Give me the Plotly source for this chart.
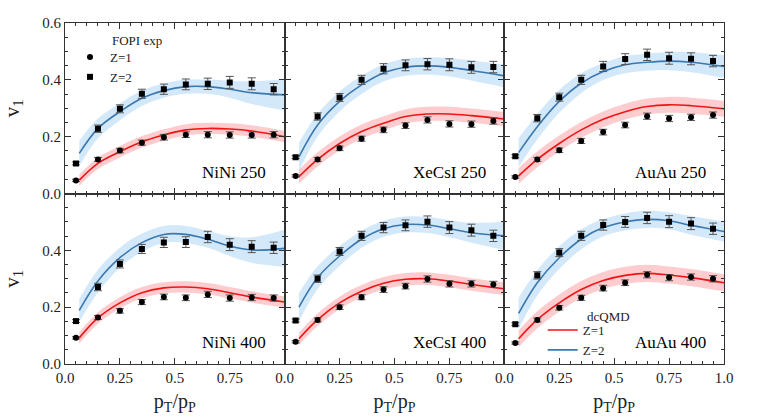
import plotly.graph_objects as go
from plotly.subplots import make_subplots

PANEL_LABELS = ["NiNi 250", "XeCsI 250", "AuAu 250", "NiNi 400", "XeCsI 400", "AuAu 400"]
X_EXP = [0.05, 0.15, 0.25, 0.35, 0.45, 0.55, 0.65, 0.75, 0.85, 0.95]
X_MOD = [0.065, 0.15, 0.25, 0.35, 0.45, 0.55, 0.65, 0.75, 0.85, 1.0]
X_TICKS = [0.0, 0.25, 0.5, 0.75, 1.0]
X_TICKTEXT = ["0.0", "0.25", "0.5", "0.75", "1.0"]
Y_TICKS = [0.0, 0.2, 0.4, 0.6]
Y_TICKTEXT = ["0.0", "0.2", "0.4", "0.6"]

# FOPI experimental data (v1 vs pT/pP)
EXP_Z1_NINI250 = [0.046, 0.120, 0.151, 0.179, 0.198, 0.207, 0.207, 0.206, 0.206, 0.207]
EXP_Z2_NINI250 = [0.106, 0.228, 0.298, 0.351, 0.367, 0.384, 0.386, 0.391, 0.386, 0.367]
EXP_Z1_XECSI250 = [0.062, 0.120, 0.159, 0.193, 0.224, 0.239, 0.259, 0.245, 0.244, 0.255]
EXP_Z2_XECSI250 = [0.128, 0.271, 0.338, 0.400, 0.439, 0.451, 0.455, 0.453, 0.444, 0.445]
EXP_Z1_AUAU250 = [0.058, 0.120, 0.152, 0.185, 0.216, 0.241, 0.272, 0.264, 0.268, 0.276]
EXP_Z2_AUAU250 = [0.131, 0.265, 0.339, 0.400, 0.447, 0.473, 0.488, 0.476, 0.474, 0.466]
EXP_Z1_NINI400 = [0.092, 0.164, 0.187, 0.218, 0.236, 0.233, 0.245, 0.232, 0.234, 0.232]
EXP_Z2_NINI400 = [0.151, 0.271, 0.352, 0.405, 0.428, 0.429, 0.447, 0.420, 0.413, 0.409]
EXP_Z1_XECSI400 = [0.078, 0.155, 0.200, 0.235, 0.262, 0.274, 0.299, 0.282, 0.282, 0.280]
EXP_Z2_XECSI400 = [0.153, 0.300, 0.396, 0.451, 0.480, 0.488, 0.501, 0.480, 0.471, 0.451]
EXP_Z1_AUAU400 = [0.074, 0.155, 0.198, 0.233, 0.267, 0.286, 0.314, 0.304, 0.306, 0.300]
EXP_Z2_AUAU400 = [0.140, 0.312, 0.392, 0.451, 0.489, 0.500, 0.514, 0.501, 0.494, 0.476]

ERR_Z1 = [0.004, 0.007, 0.008, 0.009, 0.010, 0.010, 0.011, 0.011, 0.011, 0.011]
ERR_Z2 = [0.005, 0.013, 0.014, 0.016, 0.018, 0.019, 0.020, 0.021, 0.021, 0.020]

# dcQMD model curves and band half-widths
MOD_Z1_NINI250 = [0.047, 0.106, 0.147, 0.182, 0.206, 0.224, 0.229, 0.227, 0.220, 0.200]
MOD_Z2_NINI250 = [0.141, 0.229, 0.288, 0.335, 0.362, 0.376, 0.376, 0.367, 0.355, 0.347]
MOD_Z1_XECSI250 = [0.059, 0.120, 0.176, 0.218, 0.247, 0.271, 0.280, 0.280, 0.274, 0.262]
MOD_Z2_XECSI250 = [0.129, 0.241, 0.324, 0.382, 0.424, 0.444, 0.449, 0.444, 0.433, 0.414]
MOD_Z1_AUAU250 = [0.062, 0.120, 0.176, 0.224, 0.261, 0.288, 0.306, 0.312, 0.309, 0.298]
MOD_Z2_AUAU250 = [0.144, 0.235, 0.324, 0.388, 0.429, 0.453, 0.462, 0.466, 0.462, 0.447]
MOD_Z1_NINI400 = [0.092, 0.162, 0.215, 0.251, 0.268, 0.271, 0.265, 0.251, 0.236, 0.218]
MOD_Z2_NINI400 = [0.189, 0.292, 0.374, 0.427, 0.456, 0.456, 0.439, 0.415, 0.401, 0.407]
MOD_Z1_XECSI400 = [0.089, 0.156, 0.215, 0.256, 0.284, 0.298, 0.300, 0.292, 0.280, 0.265]
MOD_Z2_XECSI400 = [0.200, 0.304, 0.380, 0.439, 0.476, 0.491, 0.489, 0.476, 0.462, 0.451]
MOD_Z1_AUAU400 = [0.089, 0.156, 0.215, 0.262, 0.294, 0.312, 0.319, 0.313, 0.304, 0.286]
MOD_Z2_AUAU400 = [0.178, 0.286, 0.374, 0.439, 0.480, 0.500, 0.509, 0.504, 0.488, 0.466]

BAND_Z1_NINI250 = [0.020, 0.020, 0.020, 0.020, 0.020, 0.020, 0.020, 0.020, 0.020, 0.020]
BAND_Z2_NINI250 = [0.045, 0.035, 0.030, 0.027, 0.025, 0.025, 0.025, 0.030, 0.040, 0.055]
BAND_Z1_XECSI250 = [0.025, 0.025, 0.025, 0.025, 0.025, 0.025, 0.025, 0.025, 0.025, 0.025]
BAND_Z2_XECSI250 = [0.050, 0.040, 0.035, 0.032, 0.030, 0.030, 0.030, 0.032, 0.035, 0.040]
BAND_Z1_AUAU250 = [0.028, 0.028, 0.028, 0.028, 0.028, 0.028, 0.028, 0.028, 0.028, 0.028]
BAND_Z2_AUAU250 = [0.050, 0.045, 0.040, 0.035, 0.030, 0.030, 0.030, 0.032, 0.035, 0.040]
BAND_Z1_NINI400 = [0.020, 0.020, 0.020, 0.020, 0.020, 0.020, 0.020, 0.020, 0.020, 0.020]
BAND_Z2_NINI400 = [0.040, 0.040, 0.035, 0.032, 0.030, 0.030, 0.030, 0.035, 0.045, 0.065]
BAND_Z1_XECSI400 = [0.022, 0.022, 0.022, 0.022, 0.022, 0.022, 0.022, 0.022, 0.022, 0.022]
BAND_Z2_XECSI400 = [0.050, 0.040, 0.035, 0.030, 0.028, 0.028, 0.028, 0.030, 0.035, 0.050]
BAND_Z1_AUAU400 = [0.030, 0.030, 0.030, 0.030, 0.030, 0.030, 0.030, 0.030, 0.030, 0.030]
BAND_Z2_AUAU400 = [0.055, 0.045, 0.040, 0.035, 0.030, 0.030, 0.030, 0.030, 0.033, 0.035]

EXP_Z1 = [EXP_Z1_NINI250, EXP_Z1_XECSI250, EXP_Z1_AUAU250, EXP_Z1_NINI400, EXP_Z1_XECSI400, EXP_Z1_AUAU400]
EXP_Z2 = [EXP_Z2_NINI250, EXP_Z2_XECSI250, EXP_Z2_AUAU250, EXP_Z2_NINI400, EXP_Z2_XECSI400, EXP_Z2_AUAU400]
MOD_Z1 = [MOD_Z1_NINI250, MOD_Z1_XECSI250, MOD_Z1_AUAU250, MOD_Z1_NINI400, MOD_Z1_XECSI400, MOD_Z1_AUAU400]
MOD_Z2 = [MOD_Z2_NINI250, MOD_Z2_XECSI250, MOD_Z2_AUAU250, MOD_Z2_NINI400, MOD_Z2_XECSI400, MOD_Z2_AUAU400]
BAND_Z1 = [BAND_Z1_NINI250, BAND_Z1_XECSI250, BAND_Z1_AUAU250, BAND_Z1_NINI400, BAND_Z1_XECSI400, BAND_Z1_AUAU400]
BAND_Z2 = [BAND_Z2_NINI250, BAND_Z2_XECSI250, BAND_Z2_AUAU250, BAND_Z2_NINI400, BAND_Z2_XECSI400, BAND_Z2_AUAU400]

RED = "#f01414"
BLUE = "#3a78b0"
RED_FILL = "rgba(250,120,130,0.38)"
BLUE_FILL = "rgba(140,195,240,0.38)"
FONT = "Liberation Serif"

fig = make_subplots(rows=2, cols=3, horizontal_spacing=0, vertical_spacing=0)

for i in range(6):
    r, c = i // 3 + 1, i % 3 + 1
    for mod, band, fill in ((MOD_Z2[i], BAND_Z2[i], BLUE_FILL), (MOD_Z1[i], BAND_Z1[i], RED_FILL)):
        lo = [m - b for m, b in zip(mod, band)]
        hi = [m + b for m, b in zip(mod, band)]
        fig.add_trace(go.Scatter(x=X_MOD, y=lo, mode="lines", line=dict(width=0, shape="spline"),
                                 showlegend=False, hoverinfo="skip"), row=r, col=c)
        fig.add_trace(go.Scatter(x=X_MOD, y=hi, mode="lines", line=dict(width=0, shape="spline"),
                                 fill="tonexty", fillcolor=fill, showlegend=False, hoverinfo="skip"),
                      row=r, col=c)
for i in range(6):
    r, c = i // 3 + 1, i % 3 + 1
    last = (i == 5)
    fig.add_trace(go.Scatter(x=X_MOD, y=MOD_Z1[i], mode="lines", name="Z=1",
                             line=dict(color=RED, width=1.6, shape="spline"),
                             showlegend=last, legend="legend2"), row=r, col=c)
    fig.add_trace(go.Scatter(x=X_MOD, y=MOD_Z2[i], mode="lines", name="Z=2",
                             line=dict(color=BLUE, width=1.6, shape="spline"),
                             showlegend=last, legend="legend2"), row=r, col=c)
for i in range(6):
    r, c = i // 3 + 1, i % 3 + 1
    first = (i == 0)
    fig.add_trace(go.Scatter(x=X_EXP, y=EXP_Z1[i], mode="markers", name="Z=1",
                             marker=dict(symbol="circle", size=6, color="black"),
                             error_y=dict(type="data", array=ERR_Z1, color="#555555", thickness=1, width=4),
                             showlegend=first, legend="legend"), row=r, col=c)
    fig.add_trace(go.Scatter(x=X_EXP, y=EXP_Z2[i], mode="markers", name="Z=2",
                             marker=dict(symbol="square", size=6, color="black"),
                             error_y=dict(type="data", array=ERR_Z2, color="#555555", thickness=1, width=4),
                             showlegend=first, legend="legend"), row=r, col=c)
    xref = "x domain" if i == 0 else f"x{i+1} domain"
    yref = "y domain" if i == 0 else f"y{i+1} domain"
    fig.add_annotation(text=PANEL_LABELS[i], xref=xref, yref=yref, x=0.925, y=0.125,
                       xanchor="right", yanchor="middle", showarrow=False,
                       font=dict(family=FONT, size=17, color="black"))

axis_common = dict(showline=True, linecolor="#333333", linewidth=1, mirror="allticks",
                   ticks="inside", ticklen=6, tickcolor="#333333", showgrid=False, zeroline=False,
                   automargin=False,
                   tickfont=dict(family=FONT, size=15, color="#222222"))
for c in range(1, 4):
    for r in (1, 2):
        txt = X_TICKTEXT if c == 3 else X_TICKTEXT[:4] + [""]
        fig.update_xaxes(range=[0, 1], tickvals=X_TICKS, ticktext=txt,
                         showticklabels=(r == 2),
                         minor=dict(ticks="inside", dtick=0.05, ticklen=3, tickcolor="#333333"),
                         row=r, col=c, **axis_common)
        ytxt = Y_TICKTEXT if r == 1 else Y_TICKTEXT[:3] + [""]
        fig.update_yaxes(range=[0, 0.6], tickvals=Y_TICKS, ticktext=ytxt,
                         showticklabels=(c == 1),
                         minor=dict(ticks="inside", dtick=0.05, ticklen=3, tickcolor="#333333"),
                         row=r, col=c, **axis_common)
    fig.update_xaxes(title=dict(text="p<sub>T</sub>/p<sub>P</sub>", font=dict(family=FONT, size=20, color="#222222"),
                                standoff=8), row=2, col=c)
for r in (1, 2):
    fig.update_yaxes(title=dict(text="v<sub>1</sub>", font=dict(family=FONT, size=21, color="#222222"),
                                standoff=22), row=r, col=1)

# legend titles
fig.add_annotation(text="FOPI exp", xref="paper", yref="paper", x=(110 - 65) / 659, y=1 - (41 - 23) / 341,
                   xanchor="left", yanchor="middle", showarrow=False,
                   font=dict(family=FONT, size=13, color="#222222"))
fig.add_annotation(text="dcQMD", xref="paper", yref="paper", x=(585 - 65) / 659, y=1 - (316 - 23) / 341,
                   xanchor="left", yanchor="middle", showarrow=False,
                   font=dict(family=FONT, size=13, color="#222222"))

fig.update_layout(
    width=768, height=420,
    margin=dict(l=65, r=44, t=23, b=56),
    paper_bgcolor="white", plot_bgcolor="white",
    font=dict(family=FONT, color="#222222"),
    legend=dict(x=5 / 659, y=1 - (42 - 23) / 341, xanchor="left", yanchor="top", traceorder="normal",
                bgcolor="rgba(0,0,0,0)", font=dict(family=FONT, size=13, color="#222222"),
                itemwidth=30, tracegroupgap=0),
    legend2=dict(x=(546 - 65) / 659 - 0.005, y=1 - (315 - 23) / 341, xanchor="left", yanchor="top",
                 traceorder="normal",
                 bgcolor="rgba(0,0,0,0)", font=dict(family=FONT, size=13, color="#222222"),
                 itemwidth=30, tracegroupgap=0),
    showlegend=True,
)

fig.write_html("out.html", config={"displayModeBar": False},
               post_script="document.body.style.margin='0';")
